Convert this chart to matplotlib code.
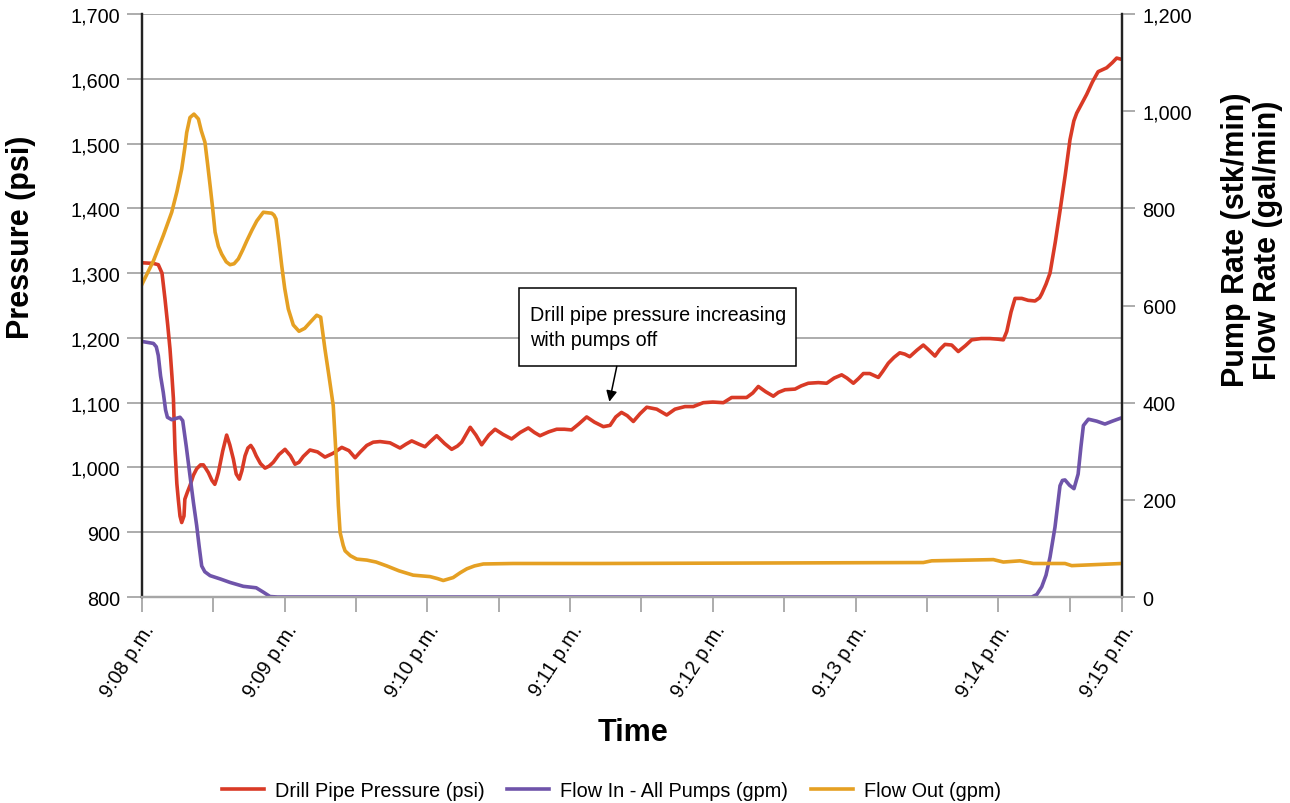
import matplotlib
matplotlib.use('Agg')
import matplotlib.pyplot as plt
from matplotlib.patches import Rectangle
from matplotlib.ticker import FuncFormatter

plt.rcParams['font.family'] = ['Liberation Sans', 'DejaVu Sans']

# time in minutes after 9:08 p.m.
t_dpp = [0.00, 0.08, 0.114, 0.14, 0.161, 0.18, 0.196, 0.21, 0.22, 0.231, 0.244, 0.254, 0.266, 0.278,
         0.294, 0.30, 0.318, 0.336, 0.36, 0.383, 0.41, 0.43, 0.448, 0.465, 0.49, 0.51, 0.522, 0.535,
         0.565, 0.593, 0.615, 0.64, 0.66, 0.682, 0.70, 0.722, 0.742, 0.762, 0.78, 0.80, 0.83, 0.862,
         0.89, 0.92, 0.96, 1.002, 1.04, 1.072, 1.10, 1.13, 1.177, 1.23, 1.282, 1.34, 1.40, 1.45,
         1.493, 1.53, 1.575, 1.62, 1.668, 1.738, 1.808, 1.85, 1.89, 1.94, 1.983, 2.02, 2.065, 2.12,
         2.17, 2.21, 2.24, 2.30, 2.34, 2.38, 2.43, 2.474, 2.53, 2.59, 2.65, 2.707, 2.75, 2.789,
         2.85, 2.906, 2.96, 3.01, 3.06, 3.116, 3.17, 3.233, 3.28, 3.32, 3.36, 3.40, 3.443, 3.49,
         3.537, 3.607, 3.677, 3.735, 3.805, 3.863, 3.933, 4.00, 4.074, 4.132, 4.237, 4.28, 4.319,
         4.37, 4.424, 4.46, 4.506, 4.576, 4.62, 4.669, 4.74, 4.798, 4.85, 4.903, 4.94, 4.985, 5.02,
         5.055, 5.10, 5.16, 5.19, 5.23, 5.27, 5.31, 5.345, 5.38, 5.43, 5.475, 5.51, 5.557, 5.59,
         5.627, 5.674, 5.72, 5.77, 5.814, 5.88, 5.942, 6.00, 6.036, 6.06, 6.09, 6.118, 6.165, 6.21,
         6.258, 6.29, 6.305, 6.335, 6.363, 6.40, 6.433, 6.47, 6.503, 6.53, 6.55, 6.62, 6.66, 6.70,
         6.76, 6.80, 6.83, 6.866]
dpp = [1316, 1315, 1313, 1300, 1260, 1220, 1183, 1140, 1106, 1028, 975, 951, 925, 915,
       925, 951, 962, 972, 988, 998, 1004, 1004, 998, 992, 980, 974, 982, 992,
       1025, 1050, 1035, 1013, 990, 982, 995, 1018, 1030, 1034, 1028, 1018, 1006, 999,
       1002, 1008, 1020, 1028, 1018, 1005, 1008, 1017, 1027, 1024, 1016, 1022, 1031, 1026,
       1015, 1024, 1034, 1039, 1040, 1038, 1030, 1036, 1041, 1036, 1032, 1040, 1049, 1037,
       1028, 1033, 1039, 1062, 1050, 1035, 1050, 1059, 1051, 1044, 1054, 1061, 1054, 1049,
       1055, 1059, 1059, 1058, 1067, 1078, 1070, 1063, 1065, 1078, 1085, 1080, 1071, 1083,
       1093, 1090, 1081, 1090, 1094, 1094, 1100, 1101, 1100, 1108, 1108, 1115, 1125,
       1117, 1110, 1116, 1120, 1121, 1126, 1130, 1131, 1130, 1138, 1143, 1138, 1130, 1137,
       1145, 1145, 1139, 1148, 1161, 1170, 1177, 1175, 1171, 1181, 1189, 1182, 1172, 1182,
       1190, 1189, 1179, 1188, 1197, 1199, 1199, 1198, 1197, 1210, 1240, 1261, 1261, 1258,
       1257, 1262, 1268, 1283, 1300, 1348, 1396, 1452, 1506, 1535, 1547, 1576, 1595, 1611,
       1617, 1625, 1632, 1630]

t_in = [0, 0.08, 0.10, 0.114, 0.13, 0.149, 0.165, 0.178, 0.208, 0.266, 0.285, 0.31, 0.336, 0.36,
        0.383, 0.40, 0.418, 0.44, 0.477, 0.55, 0.617, 0.71, 0.80, 0.85, 0.897, 0.95, 6.235, 6.27,
        6.305, 6.335, 6.363, 6.398, 6.433, 6.45, 6.468, 6.50, 6.531, 6.56, 6.58, 6.597, 6.632,
        6.69, 6.748, 6.80, 6.866]
flow_in = [526, 522, 515, 497, 455, 421, 385, 370, 365, 370, 363, 310, 250, 195,
           147, 105, 64, 52, 44, 37, 30, 22, 19, 10, 1, 0, 0, 5,
           21, 45, 82, 144, 229, 240, 241, 230, 223, 253, 310, 353, 366,
           362, 356, 362, 369]

t_out = [0, 0.08, 0.149, 0.208, 0.245, 0.278, 0.30, 0.313, 0.336, 0.364, 0.395, 0.415, 0.441, 0.46,
         0.477, 0.495, 0.512, 0.535, 0.558, 0.59, 0.617, 0.645, 0.675, 0.705, 0.734, 0.77, 0.804,
         0.85, 0.909, 0.925, 0.939, 0.96, 0.979, 1.00, 1.025, 1.06, 1.10, 1.14, 1.177, 1.224,
         1.252, 1.282, 1.31, 1.34, 1.364, 1.376, 1.388, 1.41, 1.423, 1.46, 1.505, 1.575, 1.64,
         1.715, 1.80, 1.90, 2.018, 2.07, 2.111, 2.18, 2.23, 2.276, 2.33, 2.392, 2.60, 3.21,
         5.475, 5.534, 5.966, 6.036, 6.153, 6.246, 6.468, 6.515, 6.866]
flow_out = [644, 692, 744, 792, 835, 881, 925, 956, 987, 994, 984, 960, 936, 890,
            847, 800, 751, 722, 706, 690, 684, 686, 696, 714, 733, 755, 774,
            792, 790, 786, 778, 730, 682, 635, 593, 560, 547, 553, 565, 580,
            576, 510, 455, 394, 270, 188, 133, 106, 95, 85, 78, 76, 72,
            64, 54, 45, 42, 38, 34, 40, 50, 58, 64, 68, 69, 69,
            71, 74.5, 77, 72, 74.5, 69, 69, 64.6, 69]

x_ticks = [0, 1, 2, 3, 4, 5, 6, 6.866]
x_labels = ['9:08 p.m.', '9:09 p.m.', '9:10 p.m.', '9:11 p.m.', '9:12 p.m.', '9:13 p.m.',
            '9:14 p.m.', '9:15 p.m.']

red = '#d93a26'
purple = '#6f54aa'
orange = '#e5a023'
grey = '#a6a6a6'
fs = 14.3

fig = plt.figure(figsize=(12.9, 8.04), dpi=100)
ax = fig.add_axes([0.1101, 0.2562, 0.7595, 0.7251])
ax2 = ax.twinx()

ax.plot(t_dpp, dpp, color=red, lw=2.6, solid_joinstyle='round', label='Drill Pipe Pressure (psi)')
ax2.plot(t_in, flow_in, color=purple, lw=2.6, solid_joinstyle='round', label='Flow In - All Pumps (gpm)')
ax2.plot(t_out, flow_out, color=orange, lw=2.6, solid_joinstyle='round', label='Flow Out (gpm)')

ax.set_xlim(0, 6.866)
ax.set_ylim(800, 1700)
ax2.set_ylim(0, 1200)

ax.set_yticks(range(800, 1701, 100))
ax.yaxis.set_major_formatter(FuncFormatter(lambda v, p: '{:,.0f}'.format(v)))
ax2.set_yticks(range(0, 1201, 200))
ax2.yaxis.set_major_formatter(FuncFormatter(lambda v, p: '{:,.0f}'.format(v)))
ax.yaxis.grid(True, color=grey, lw=1.3)
ax.set_axisbelow(True)

ax.set_xticks(x_ticks)
ax.set_xticklabels(x_labels)
ax.set_xticks([0.5, 1.5, 2.5, 3.5, 4.5, 5.5, 6.5], minor=True)
ax.tick_params(axis='x', which='both', length=11, width=1.3, color=grey, pad=6, labelsize=fs)
ax.tick_params(axis='y', length=11, width=1.3, color=grey, pad=5, labelsize=fs)
ax2.tick_params(axis='y', length=9, width=1.3, color=grey, pad=6, labelsize=fs)
for lab in ax.get_xticklabels():
    lab.set_rotation(57)
    lab.set_ha('right')
    lab.set_va('top')
    lab.set_rotation_mode('anchor')

for a in (ax, ax2):
    a.spines['top'].set_visible(False)
    a.spines['left'].set_color('#222222')
    a.spines['right'].set_color('#222222')
    a.spines['left'].set_linewidth(1.6)
    a.spines['right'].set_linewidth(1.6)
    a.spines['bottom'].set_color(grey)
    a.spines['bottom'].set_linewidth(1.6)

# annotation box (drawn on top of the lines)
box = Rectangle((2.642, 1156.6), 4.583 - 2.642, 1277 - 1156.6, transform=ax.transData,
                fc='white', ec='black', lw=1.1, zorder=9)
ax2.add_patch(box)
ax2.text(2.719, 1217, 'Drill pipe pressure increasing\nwith pumps off', transform=ax.transData,
         fontsize=14.2, ha='left', va='center', linespacing=1.4, zorder=10)
ax2.annotate('', xy=(3.275, 1101.5), xytext=(3.327, 1156), xycoords=ax.transData,
             textcoords=ax.transData, zorder=10,
             arrowprops=dict(arrowstyle='-|>', color='black', lw=1.1, mutation_scale=16,
                             shrinkA=0, shrinkB=0))

fig.text(0.016, 0.705, 'Pressure (psi)', rotation=90, ha='center', va='center',
         fontsize=22, fontweight='bold')
fig.text(0.9705, 0.7015, 'Pump Rate (stk/min)\nFlow Rate (gal/min)', rotation=90, ha='center',
         va='center', fontsize=22, fontweight='bold', linespacing=1.12)
fig.text(0.4907, 0.0883, 'Time', ha='center', va='center', fontsize=22, fontweight='bold')

h1, l1 = ax.get_legend_handles_labels()
h2, l2 = ax2.get_legend_handles_labels()
fig.legend(h1 + h2, l1 + l2, loc='center', bbox_to_anchor=(0.474, 0.016), ncol=3,
           frameon=False, fontsize=fs, handlelength=2.1, handletextpad=0.55, columnspacing=1.15)

fig.savefig('out.png', dpi=100)
